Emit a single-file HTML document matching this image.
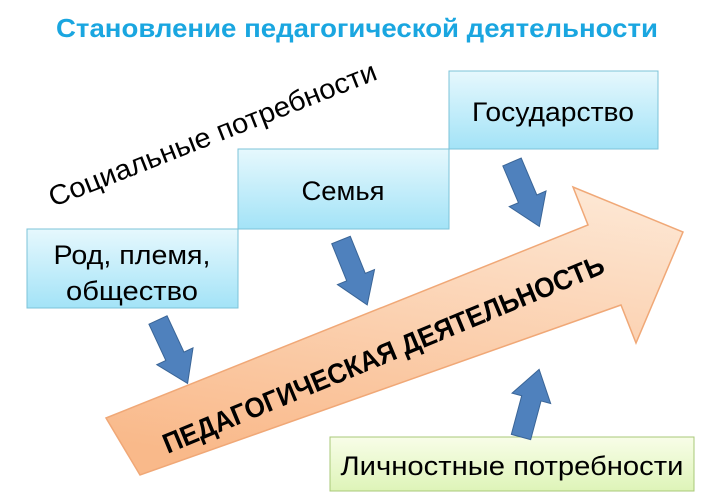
<!DOCTYPE html>
<html><head><meta charset="utf-8"><style>
html,body{margin:0;padding:0;background:#fff;width:714px;height:503px;overflow:hidden}
svg{display:block}
text{font-family:"Liberation Sans",sans-serif}
</style></head><body>
<svg width="714" height="503" viewBox="0 0 714 503" xmlns="http://www.w3.org/2000/svg">
<defs>
<linearGradient id="bx" x1="0" y1="0" x2="0" y2="1">
<stop offset="0" stop-color="#e6f8fd"/><stop offset="1" stop-color="#a3e3f7"/></linearGradient>
<linearGradient id="gr" x1="0" y1="0" x2="0" y2="1">
<stop offset="0" stop-color="#f8fde8"/><stop offset="1" stop-color="#def4b8"/></linearGradient>
<linearGradient id="ar" x1="0.7" y1="0" x2="0.4" y2="1">
<stop offset="0" stop-color="#fde6d2"/><stop offset="1" stop-color="#f9b98a"/></linearGradient>
<polygon id="ba" points="-10,0 10,0 10,40 20,40 0,70 -20,40 -10,40"/>
</defs>
<text x="357" y="37" font-size="26" font-weight="bold" fill="#1aa6e0" text-anchor="middle" textLength="602" lengthAdjust="spacingAndGlyphs">Становление педагогической деятельности</text>

<polygon points="106,418 588,225 573,187 683,232 636,343 621,305 140,475" fill="url(#ar)" stroke="#f0a877" stroke-width="1.5"/>
<text transform="translate(387,363) rotate(-22.5)" font-size="28" font-weight="bold" fill="#000" text-anchor="middle" textLength="475" lengthAdjust="spacingAndGlyphs">ПЕДАГОГИЧЕСКАЯ ДЕЯТЕЛЬНОСТЬ</text>

<rect x="27" y="229" width="211" height="79" fill="url(#bx)" stroke="#7cc3d8"/>
<rect x="238" y="149" width="211" height="80" fill="url(#bx)" stroke="#7cc3d8"/>
<rect x="449" y="71" width="209" height="78" fill="url(#bx)" stroke="#7cc3d8"/>
<rect x="330" y="437" width="364" height="54" fill="url(#gr)" stroke="#a8c878"/>

<text x="132" y="264" font-size="27" text-anchor="middle" textLength="157" lengthAdjust="spacingAndGlyphs">Род, племя,</text>
<text x="132" y="300" font-size="27" text-anchor="middle" textLength="132" lengthAdjust="spacingAndGlyphs">общество</text>
<text x="343" y="200" font-size="27" text-anchor="middle" textLength="83" lengthAdjust="spacingAndGlyphs">Семья</text>
<text x="553" y="121" font-size="27" text-anchor="middle" textLength="162" lengthAdjust="spacingAndGlyphs">Государство</text>
<text x="512" y="475" font-size="27" text-anchor="middle" textLength="343" lengthAdjust="spacingAndGlyphs">Личностные потребности</text>

<text transform="translate(216,143) rotate(-21.5)" font-size="28" text-anchor="middle" textLength="350" lengthAdjust="spacingAndGlyphs">Социальные потребности</text>

<g fill="#4f81bd" stroke="#3a6597" stroke-width="1">
<use href="#ba" transform="translate(158,320) rotate(-25)"/>
<use href="#ba" transform="translate(341,240) rotate(-22)"/>
<use href="#ba" transform="translate(512,162) rotate(-23)"/>
<use href="#ba" transform="translate(521,437) rotate(195)"/>
</g>
</svg>
</body></html>
